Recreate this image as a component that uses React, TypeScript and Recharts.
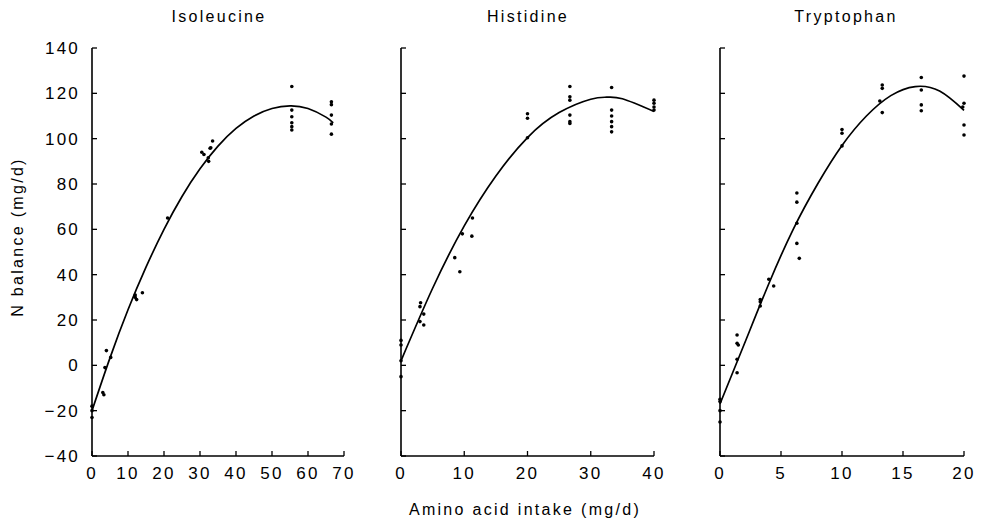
import React from "react";
import { ComposedChart, Scatter, Line, XAxis, YAxis } from "recharts";

// shared y ticks (N balance, mg/d)
const yTicks = [-40, -20, 0, 20, 40, 60, 80, 100, 120, 140];

// Isoleucine
const isoTicks = [0, 10, 20, 30, 40, 50, 60, 70];
const isoX = [0, 0, 0, 3, 3.3, 3.6, 4, 5.2, 12, 12, 12.4, 14, 21, 30.5, 31.1, 32.3, 33, 33.5, 32.4, 32.8, 55.5, 55.5, 55.5, 55.5, 55.5, 55.5, 66.5, 66.5, 66.5, 66.5, 66.5];
const isoY = [-18, -20, -23, -12, -13, -1, 6.5, 3.5, 31, 30, 29, 32, 65, 94, 93, 91.6, 96, 99, 90, 95.8, 123, 112.6, 109.7, 107, 105.3, 103.8, 116.3, 115, 110.4, 106.5, 102];
const isoCurveX = [0, 5, 10, 15, 20, 25, 30, 35, 40, 45, 50, 55, 60, 65, 67];
const isoCurveY = [-20, 3.3, 24.5, 43.3, 60, 74.5, 86.7, 96.7, 104.5, 110, 113.3, 114.5, 113.3, 109.5, 107];

// Histidine
const hisTicks = [0, 10, 20, 30, 40];
const hisX = [0, 0, 0, 0, 3.1, 3, 3.6, 3, 3.6, 8.5, 9.3, 9.7, 11.2, 11.3, 20, 20, 20, 26.7, 26.7, 26.7, 26.7, 26.7, 26.7, 33.3, 33.3, 33.3, 33.3, 33.3, 33.3, 40, 40, 40, 40];
const hisY = [11, 9, 2, -5, 27.6, 25.9, 22.6, 19.3, 17.8, 47.5, 41.3, 58, 57, 65, 111, 109, 100.4, 123, 118.5, 117, 110.4, 107.5, 106.7, 122.6, 112.6, 110, 107.5, 105.3, 103, 117, 115.6, 114, 112.6];
const hisCurveX = [0, 5, 10, 15, 20, 25, 30, 32.5, 35, 40];
const hisCurveY = [2, 34, 61.5, 83.5, 100.5, 111.5, 117.4, 118.3, 117.6, 112];

// Tryptophan
const trpTicks = [0, 5, 10, 15, 20];
const trpX = [0, 0, 0, 0, 1.4, 1.4, 1.5, 1.4, 1.4, 3.3, 3.3, 3.3, 4, 4.4, 6.3, 6.3, 6.3, 6.3, 6.5, 10, 10, 10, 13.3, 13.3, 13.1, 13.3, 16.5, 16.5, 16.5, 16.5, 20, 20, 19.9, 20, 20];
const trpY = [-15, -16, -20, -25, 13.4, 9.7, 9, 2.7, -3.3, 29, 28, 26.2, 38, 35, 76, 72, 62.7, 53.8, 47.2, 104, 102.4, 96.8, 123.7, 122.2, 116.6, 111.5, 127, 121.5, 114.9, 112.3, 127.6, 115.6, 114, 106, 101.6];
const trpCurveX = [0, 2, 4, 6, 8, 10, 12, 14, 16, 18, 20];
const trpCurveY = [-17, 9.5, 36, 60, 80, 97, 110, 119, 123, 121, 112.5];

const toPts = (xs: number[], ys: number[]) => xs.map((x, i) => ({ x, y: ys[i] }));

const FONT = '"Liberation Sans", Arial, Helvetica, sans-serif';

const Dot = (p: any) => <circle cx={p.cx} cy={p.cy} r={1.8} fill="#000" />;

type PanelProps = {
  left: number;
  width: number;
  yAxisWidth: number;
  rightMargin: number;
  xMax: number;
  xTicks: number[];
  points: { x: number; y: number }[];
  curve: { x: number; y: number }[];
  showYLabels: boolean;
};

function Panel(props: PanelProps) {
  const { left, width, yAxisWidth, rightMargin, xMax, xTicks, points, curve, showYLabels } = props;
  const tickStyle = { fill: "#000", fontSize: 17, fontFamily: FONT, letterSpacing: 2.2 };
  return (
    <div style={{ position: "absolute", left, top: 0 }}>
      <ComposedChart width={width} height={530} margin={{ top: 48, right: rightMargin, bottom: 0, left: 0 }}>
        <XAxis
          type="number"
          dataKey="x"
          domain={[0, xMax]}
          ticks={xTicks}
          interval={0}
          height={74}
          tickSize={-5}
          tickMargin={16}
          axisLine={{ stroke: "#000", strokeWidth: 1.6 }}
          tickLine={{ stroke: "#000", strokeWidth: 1.3 }}
          tick={tickStyle}
        />
        <YAxis
          type="number"
          dataKey="y"
          domain={[-40, 140]}
          ticks={yTicks}
          interval={0}
          width={yAxisWidth}
          tickSize={-5}
          tickMargin={17}
          axisLine={{ stroke: "#000", strokeWidth: 1.6 }}
          tickLine={{ stroke: "#000", strokeWidth: 1.3 }}
          tick={tickStyle}
          tickFormatter={(v: number) => (showYLabels ? (v < 0 ? "\u2212" + Math.abs(v) : String(v)) : "")}
        />
        <Line data={curve} dataKey="y" type="natural" stroke="#000" strokeWidth={1.7} dot={false} isAnimationActive={false} />
        <Scatter data={points} fill="#000" shape={Dot} isAnimationActive={false} />
      </ComposedChart>
    </div>
  );
}

export default function App() {
  const titleStyle = { fontFamily: FONT, fontSize: 16, letterSpacing: 2.3, fill: "#000" } as const;
  return (
    <div style={{ position: "absolute", left: 0, top: 0, width: 983, height: 530, background: "#fff" }}>
      <Panel left={0} width={360} yAxisWidth={92} rightMargin={16} xMax={70} xTicks={isoTicks}
        points={toPts(isoX, isoY)} curve={toPts(isoCurveX, isoCurveY)} showYLabels={true} />
      <Panel left={330} width={340} yAxisWidth={71} rightMargin={16} xMax={40} xTicks={hisTicks}
        points={toPts(hisX, hisY)} curve={toPts(hisCurveX, hisCurveY)} showYLabels={false} />
      <Panel left={650} width={333} yAxisWidth={70} rightMargin={19} xMax={20} xTicks={trpTicks}
        points={toPts(trpX, trpY)} curve={toPts(trpCurveX, trpCurveY)} showYLabels={false} />
      <svg width={983} height={530} style={{ position: "absolute", left: 0, top: 0, pointerEvents: "none" }}>
        <text x={219} y={22} textAnchor="middle" {...titleStyle}>Isoleucine</text>
        <text x={528} y={22} textAnchor="middle" {...titleStyle}>Histidine</text>
        <text x={846} y={22} textAnchor="middle" {...titleStyle}>Tryptophan</text>
        <text x={525} y={515} textAnchor="middle" {...titleStyle}>Amino acid intake (mg/d)</text>
        <text x={22.5} y={237} textAnchor="middle" transform="rotate(-90 22.5 237)" {...titleStyle}>N balance (mg/d)</text>
      </svg>
    </div>
  );
}
